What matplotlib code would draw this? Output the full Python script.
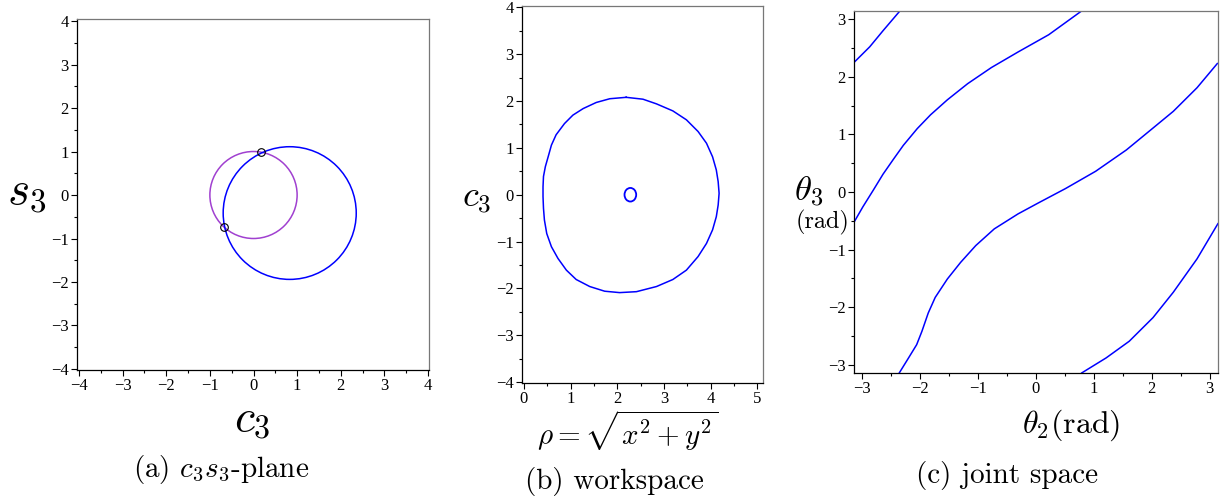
import numpy as np
import matplotlib
matplotlib.use("Agg")
import matplotlib.pyplot as plt
from matplotlib.patches import Circle, Ellipse
from matplotlib.ticker import MultipleLocator

plt.rcParams['mathtext.fontset'] = 'cm'
plt.rcParams['font.family'] = ['Liberation Serif', 'DejaVu Serif']

# (a) c3 s3-plane: unit circle and the constraint circle, with their intersections
unit_circle = (0.0, 0.0, 1.0)            # center x, center y, radius
constraint_circle = (0.83, -0.415, 1.525)
intersect_c3 = [0.18, -0.68]
intersect_s3 = [0.985, -0.745]

# (b) workspace boundary (rho, c3)
ws_rho = [2.19, 1.84, 1.55, 1.27, 1.05, 0.87, 0.69, 0.59, 0.52, 0.46, 0.42, 0.41, 0.41,
          0.42, 0.44, 0.49, 0.59, 0.73, 0.91, 1.12, 1.41, 1.73, 2.05, 2.41, 2.84, 3.19,
          3.48, 3.73, 3.91, 4.04, 4.12, 4.16, 4.18, 4.16, 4.12, 4.04, 3.91, 3.73, 3.48,
          3.19, 2.84, 2.55, 2.19]
ws_c3 = [2.08, 2.05, 1.97, 1.84, 1.70, 1.52, 1.28, 1.06, 0.81, 0.60, 0.39, 0.17, -0.04,
         -0.29, -0.54, -0.83, -1.11, -1.36, -1.61, -1.81, -1.96, -2.06, -2.09, -2.07, -1.96,
         -1.81, -1.61, -1.32, -1.04, -0.75, -0.47, -0.22, 0.03, 0.28, 0.53, 0.81, 1.10,
         1.35, 1.60, 1.79, 1.94, 2.04, 2.08]
hole = (2.28, 0.0, 0.25, 0.29)           # center rho, center c3, width, height

# (c) joint space curves (theta2, theta3)
j1_t2 = [-3.15, -2.87, -2.64, -2.36]
j1_t3 = [2.24, 2.52, 2.80, 3.13]
j2_t2 = [-3.15, -2.99, -2.81, -2.64, -2.46, -2.29, -2.05, -1.82, -1.53, -1.18, -0.77,
         -0.31, 0.22, 0.77]
j2_t3 = [-0.54, -0.26, 0.03, 0.31, 0.57, 0.81, 1.10, 1.34, 1.60, 1.88, 2.16, 2.43, 2.73, 3.13]
j3_t2 = [-2.36, -2.20, -2.06, -1.97, -1.86, -1.74, -1.53, -1.30, -1.04, -0.72, -0.31, 0.04,
         0.51, 1.03, 1.56, 2.02, 2.37, 2.78, 3.13]
j3_t3 = [-3.14, -2.88, -2.65, -2.42, -2.10, -1.83, -1.51, -1.22, -0.93, -0.64, -0.38, -0.19,
         0.06, 0.36, 0.73, 1.11, 1.40, 1.81, 2.23]
j4_t2 = [0.79, 1.21, 1.61, 2.02, 2.37, 2.78, 3.14]
j4_t3 = [-3.14, -2.88, -2.59, -2.18, -1.74, -1.16, -0.55]

BLUE = '#0000FF'
PURPLE = '#A040D0'
W, H = 1220, 500


def style(ax, major, minor):
    ax.xaxis.set_major_locator(MultipleLocator(major))
    ax.yaxis.set_major_locator(MultipleLocator(major))
    ax.xaxis.set_minor_locator(MultipleLocator(minor))
    ax.yaxis.set_minor_locator(MultipleLocator(minor))
    ax.tick_params(which='major', direction='out', length=4, width=0.8, labelsize=12, pad=2)
    ax.tick_params(which='minor', direction='out', length=2.5, width=0.8)
    for s in ['top', 'right']:
        ax.spines[s].set_color('#777777')
    for s in ax.spines.values():
        s.set_linewidth(0.9)


def box(l, r, t, b):
    return [l / W, (H - b) / H, (r - l) / W, (b - t) / H]


fig = plt.figure(figsize=(12.2, 5), dpi=100)

# panel a
ax1 = fig.add_axes(box(77, 429, 19, 370))
cx, cy, r = unit_circle
ax1.add_patch(Circle((cx, cy), r, fill=False, ec=PURPLE, lw=1.1))
cx, cy, r = constraint_circle
ax1.add_patch(Circle((cx, cy), r, fill=False, ec=BLUE, lw=1.1))
ax1.plot(intersect_c3, intersect_s3, 'o', ms=5.5, mfc='none', mec='black', mew=0.8)
ax1.set_xlim(-4.046, 4.023)
ax1.set_ylim(-4.023, 4.046)
style(ax1, 1, 0.5)

# panel b
ax2 = fig.add_axes(box(522, 763, 6, 383))
ax2.plot(ws_rho, ws_c3, color=BLUE, lw=1.1)
hx, hy, hw, hh = hole
ax2.add_patch(Ellipse((hx, hy), hw, hh, fill=False, ec=BLUE, lw=1.3))
ax2.set_xlim(-0.04, 5.12)
ax2.set_ylim(-4.02, 4.03)
style(ax2, 1, 0.5)

# panel c
ax3 = fig.add_axes(box(854, 1218, 11, 373))
for xs, ys in [(j1_t2, j1_t3), (j2_t2, j2_t3), (j3_t2, j3_t3), (j4_t2, j4_t3)]:
    ax3.plot(xs, ys, color=BLUE, lw=1.1)
ax3.set_xlim(-np.pi, np.pi)
ax3.set_ylim(-np.pi, np.pi)
style(ax3, 1, 0.5)


def ftext(x, y, s, size, **kw):
    fig.text(x / W, 1 - y / H, s, fontsize=size, ha='center', va='center', **kw)


# axis labels
ftext(27, 193, r'$s_3$', 34)
ftext(252, 420, r'$c_3$', 33)
ftext(477, 200, r'$c_3$', 26)
ftext(628, 431, r'$\rho=\sqrt{x^2+y^2}$', 21)
ftext(809, 192, r'$\theta_3$', 25)
ftext(823, 222, '(rad)', 17.5, family='cmr10')
ftext(1071, 425, r'$\theta_2$(rad)', 23, family='cmr10')

# captions
ftext(221, 470, r'(a) $c_3s_3$-plane', 21, family='cmr10')
ftext(614, 482, '(b) workspace', 21, family='cmr10')
ftext(1007, 475, '(c) joint space', 21, family='cmr10')

fig.savefig('out.png', dpi=100)
